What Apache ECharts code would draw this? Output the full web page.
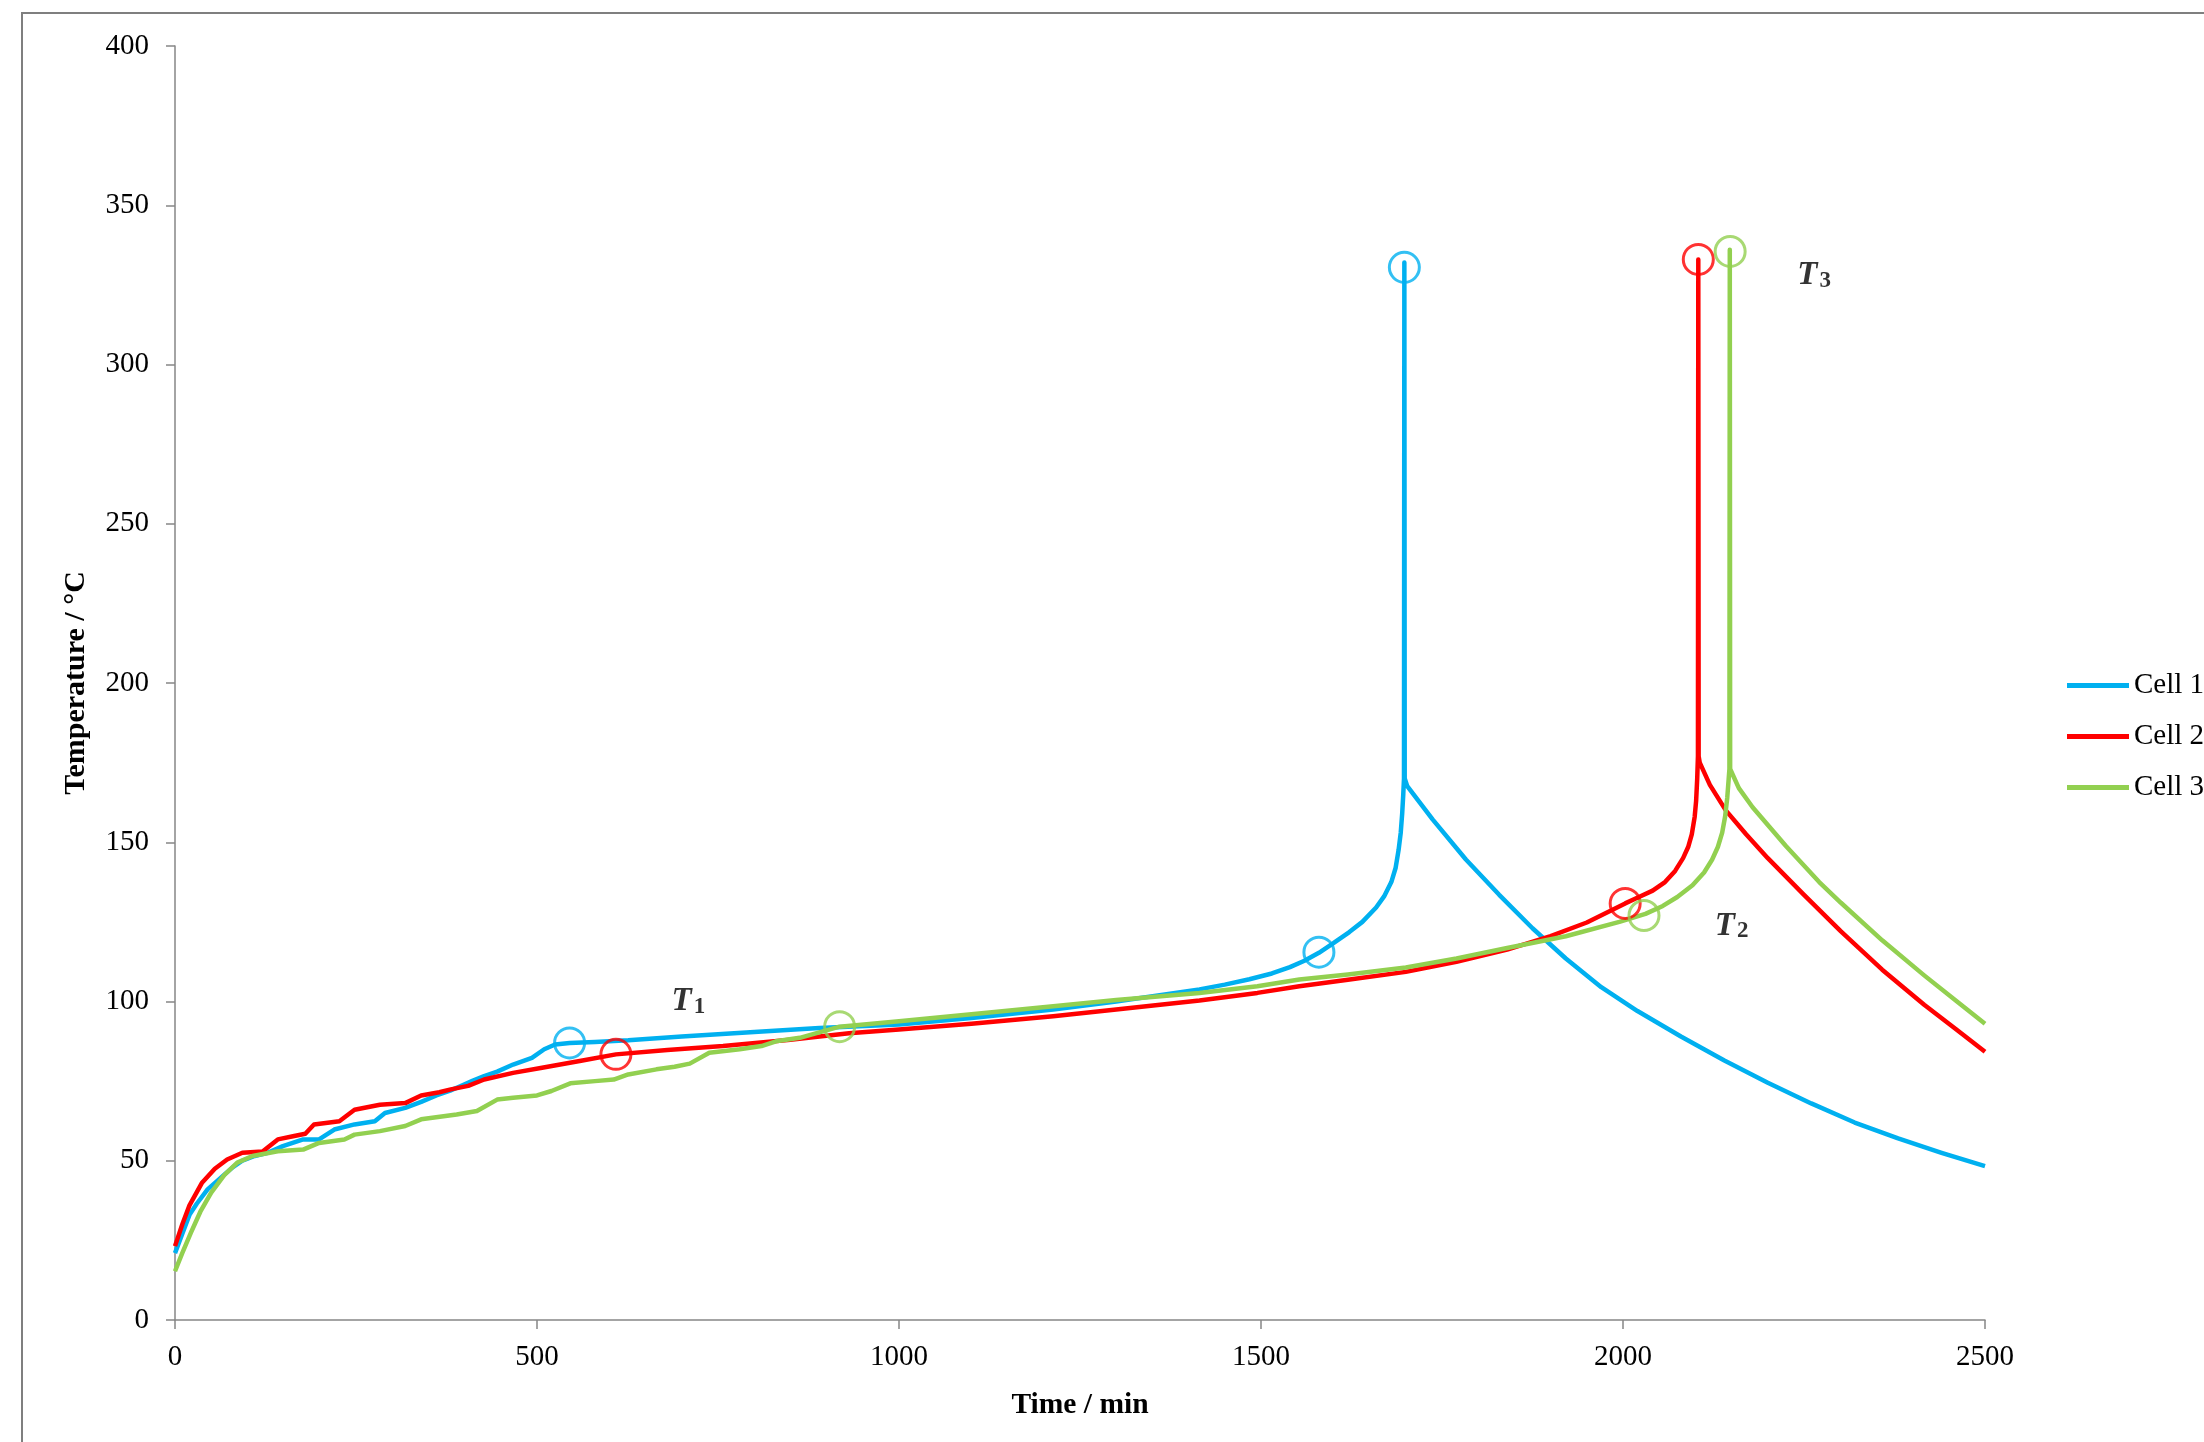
<!DOCTYPE html>
<html>
<head>
<meta charset="utf-8">
<script src="https://cdn.jsdelivr.net/npm/echarts@6/dist/echarts.min.js"></script>
<style>
html,body{margin:0;padding:0;background:#fff;}
#chart{width:2204px;height:1442px;}
</style>
</head>
<body>
<div id="chart"></div>
<script>
// ---- data (time in min, temperature in °C) ----
const seriesNames = ['Cell 1', 'Cell 2', 'Cell 3'];
const seriesColors = ['#00B0F0', '#FF0000', '#92D050'];

const cell1 = [[0,21],[10,27],[20,33],[30,36.5],[45,41],[65,45],[80,48],[93,50],[110,51.5],[128,52.5],[149,54.6],[177,56.7],[199,56.7],[220,59.8],[248,61.4],[276,62.4],[290,65],[318,66.6],[340,68.5],[361,70.5],[380,72],[394,73.4],[410,75],[427,76.6],[445,78],[467,80.2],[493,82.3],[510,85],[525,86.5],[545,87],[580,87.3],[626,87.8],[700,89],[800,90.4],[890,91.7],[1000,92.8],[1100,94.8],[1213,97.5],[1300,100],[1415,103.8],[1450,105.3],[1484,107],[1515,108.8],[1540,110.8],[1560,112.8],[1580,115.3],[1600,118.3],[1622,121.8],[1640,125],[1659,129.5],[1670,133],[1680,137.5],[1686,142],[1690,147.5],[1693,153],[1695,159],[1696.5,165],[1697.5,170],[1698,332],[1698.5,170],[1702,167.6],[1737,157.2],[1783,144.6],[1829,133.5],[1875,123],[1921,113.5],[1970,104.5],[2020,97],[2080,89],[2140,81.5],[2200,74.5],[2260,68],[2320,62],[2380,57],[2440,52.5],[2500,48.3]];

const cell2 = [[0,23.2],[10,30],[20,36],[37,43],[55,47.5],[72,50.4],[93,52.5],[121,52.9],[142,56.7],[163,57.7],[180,58.5],[192,61.4],[227,62.4],[248,66],[283,67.6],[318,68.1],[340,70.5],[365,71.5],[381,72.4],[405,73.5],[427,75.5],[467,77.6],[507,79.2],[559,81.3],[609,83.4],[680,84.8],[757,86],[850,88],[931,90],[1000,91.2],[1100,93],[1213,95.4],[1300,97.5],[1415,100.3],[1495,102.7],[1553,104.8],[1620,106.8],[1700,109.3],[1770,112.5],[1840,116.3],[1900,120.5],[1950,124.8],[2003,130.8],[2022,132.8],[2041,134.8],[2058,137.5],[2072,141],[2083,145],[2090,148.5],[2095,152.5],[2099,158],[2101,163],[2102.5,170],[2103.5,177],[2104,333],[2104.5,177],[2106,175],[2120,168],[2142,160],[2170,152.5],[2200,145],[2250,133.5],[2301,122],[2358,110],[2416,99],[2460,91.3],[2500,84.2]];

const cell3 = [[0,15.3],[10,21],[22,27.4],[35,34],[50,40],[68,45.5],[86,49.4],[107,51.5],[142,53],[177,53.5],[199,55.6],[234,56.7],[248,58.2],[283,59.3],[318,60.9],[340,63],[389,64.5],[417,65.6],[445,69.2],[467,69.8],[500,70.5],[520,71.9],[546,74.3],[580,75],[606,75.5],[626,77.1],[665,78.7],[690,79.5],[711,80.5],[738,83.9],[780,85],[810,86],[830,87.5],[863,88.6],[918,92.1],[1000,93.8],[1100,96],[1213,98.5],[1300,100.5],[1415,102.7],[1495,104.8],[1553,106.9],[1620,108.5],[1700,110.7],[1770,113.5],[1840,116.8],[1921,120.5],[1995,125],[2031,127.5],[2055,130],[2075,132.8],[2096,136.5],[2112,140.5],[2123,144.5],[2131,148.5],[2137,153],[2141,158],[2144,164],[2146,170],[2147,173],[2147.5,336],[2148,173],[2160,167],[2179,161],[2225,148.8],[2271,137.5],[2301,131],[2358,119.2],[2416,108.2],[2460,100.2],[2500,93]];

// circled characteristic points T1, T2, T3 per cell
const cell1Marks = [[545,87],[1580,115.5],[1698,330.5]];
const cell2Marks = [[609,83.4],[2003,130.8],[2104,333]];
const cell3Marks = [[918,92.1],[2029,127],[2148,335.5]];

// T labels (subscript, time, temperature)
const tLabelSubs = ['1','2','3'];
const tLabelPos = [[709,101],[2150,124.8],[2264,329]];

const xTicks = {min:0, max:2500, interval:500};
const yTicks = {min:0, max:400, interval:50};

// ---- chart ----
const serif = '"Liberation Serif","Times New Roman",serif';
const chart = echarts.init(document.getElementById('chart'), null, {renderer:'canvas'});
const lineData = [cell1, cell2, cell3];
const markData = [cell1Marks, cell2Marks, cell3Marks];

const series = [];
lineData.forEach((d, i) => {
  series.push({
    name: seriesNames[i], type: 'line', data: d,
    showSymbol: false, symbol: 'none', smooth: false,
    lineStyle: {width: 4.5, color: seriesColors[i], join: 'round'},
    itemStyle: {color: seriesColors[i]},
    z: 2 + i, silent: true, animation: false
  });
});
markData.forEach((d, i) => {
  series.push({
    name: seriesNames[i] + ' marks', type: 'scatter', data: d,
    symbol: 'circle', symbolSize: 30,
    itemStyle: {color: 'rgba(255,255,255,0)', borderColor: seriesColors[i], borderWidth: 3},
    z: 6, silent: true, animation: false
  });
});
series.push({
  name: 'labels', type: 'scatter', symbolSize: 0,
  data: tLabelPos.map((p, i) => ({value: p, sub: tLabelSubs[i]})),
  label: {
    show: true, position: 'inside',
    formatter: p => '{a|T}{b|' + p.data.sub + '}',
    rich: {
      a: {fontFamily: serif, fontStyle: 'italic', fontWeight: 'bold', fontSize: 33, lineHeight: 40, color: '#000', verticalAlign: 'bottom'},
      b: {fontFamily: serif, fontWeight: 'bold', fontSize: 23, lineHeight: 18, color: '#000', verticalAlign: 'bottom', padding: [0,0,0,2]}
    }
  },
  z: 7, silent: true, animation: false
});

const axisGray = '#868686';
chart.setOption({
  backgroundColor: '#fff',
  animation: false,
  grid: {left: 175, right: 219, top: 46, bottom: 122, containLabel: false},
  legend: {
    orient: 'vertical', left: 2062, top: 666,
    data: seriesNames.map((n, i) => ({name: n, icon: 'rect', itemStyle: {color: seriesColors[i]}})),
    itemWidth: 62, itemHeight: 5, itemGap: 22,
    textStyle: {fontFamily: serif, fontSize: 29, color: '#000', lineHeight: 29, padding: [0,0,0,0]},
    selectedMode: false
  },
  xAxis: {
    type: 'value', min: xTicks.min, max: xTicks.max, interval: xTicks.interval,
    name: 'Time / min', nameLocation: 'middle', nameGap: 70,
    nameTextStyle: {fontFamily: serif, fontWeight: 'bold', fontSize: 29.5, color: '#000'},
    axisLine: {show: true, onZero: false, lineStyle: {color: axisGray, width: 1.5}},
    axisTick: {show: true, inside: false, length: 9, lineStyle: {color: axisGray, width: 1.5}},
    axisLabel: {fontFamily: serif, fontSize: 29, color: '#000', margin: 23, formatter: v => String(v)},
    splitLine: {show: false}
  },
  yAxis: {
    type: 'value', min: yTicks.min, max: yTicks.max, interval: yTicks.interval,
    name: 'Temperature / °C', nameLocation: 'middle', nameGap: 84, nameRotate: 90,
    nameTextStyle: {fontFamily: serif, fontWeight: 'bold', fontSize: 30, color: '#000'},
    axisLine: {show: true, onZero: false, lineStyle: {color: axisGray, width: 1.5}},
    axisTick: {show: true, inside: false, length: 9, lineStyle: {color: axisGray, width: 1.5}},
    axisLabel: {fontFamily: serif, fontSize: 29, color: '#000', margin: 26, formatter: v => String(v)},
    splitLine: {show: false}
  },
  graphic: [{
    type: 'rect', silent: true, z: 100,
    shape: {x: 22, y: 13, width: 2300, height: 1500},
    style: {fill: 'none', stroke: '#7f7f7f', lineWidth: 2}
  }],
  series: series
});
</script>
</body>
</html>
